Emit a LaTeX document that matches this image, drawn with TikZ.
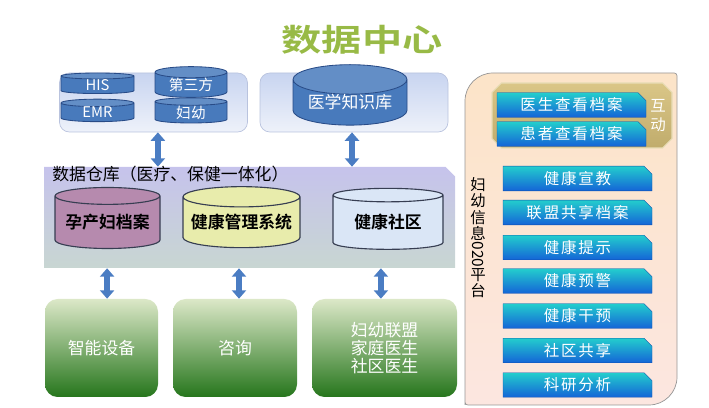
\documentclass[tikz,border=0pt]{standalone}
\usepackage{fontspec}
\setmainfont{Noto Sans CJK SC}[BoldFont={Noto Sans CJK SC Bold}]
\newfontfamily\btnfont{Noto Sans CJK SC}[LetterSpace=12]
\usetikzlibrary{arrows.meta,positioning,shapes.geometric,shapes.misc}
\definecolor{titlegreen}{RGB}{152,186,70}
\definecolor{srctop}{RGB}{200,212,240}
\definecolor{srcbot}{RGB}{238,242,250}
\definecolor{srcline}{RGB}{185,195,222}
\definecolor{dbblue}{RGB}{72,122,188}
\definecolor{dbline}{RGB}{40,75,135}
\definecolor{arrowblue}{RGB}{75,125,195}
\definecolor{dwtop}{RGB}{198,195,236}
\definecolor{dwmid}{RGB}{170,170,218}
\definecolor{dwbot}{RGB}{200,214,210}
\definecolor{storeline}{RGB}{55,62,82}
\definecolor{mauve}{RGB}{182,138,174}
\definecolor{paleyellow}{RGB}{232,236,172}
\definecolor{paleblue}{RGB}{218,230,246}
\definecolor{greentop}{RGB}{220,232,200}
\definecolor{greenbot}{RGB}{38,118,28}
\definecolor{paneltop}{RGB}{252,228,200}
\definecolor{panelmid}{RGB}{248,184,124}
\definecolor{panelbot}{RGB}{252,230,224}
\definecolor{panelline}{RGB}{150,150,150}
\definecolor{khakitop}{RGB}{218,198,135}
\definecolor{khakibot}{RGB}{192,172,108}
\definecolor{btntop}{RGB}{35,205,205}
\definecolor{btnbot}{RGB}{20,100,215}

\begin{document}
\begin{tikzpicture}[
  font=\fontsize{10.5}{12}\selectfont,
  srcbox/.style={draw=srcline, line width=0.5pt, rounded corners=7pt,
                 top color=srctop, bottom color=srcbot,
                 minimum width=4.7cm, minimum height=1.475cm},
  bluedb/.style={cylinder, shape border rotate=90, aspect=0.25, draw=dbline,
                 line width=0.6pt, cylinder uses custom fill,
                 cylinder body fill=dbblue, cylinder end fill=dbblue!85!white,
                 text=white, inner sep=0pt},
  storedb/.style={cylinder, shape border rotate=90, aspect=0.2, draw=storeline,
                  line width=0.8pt, minimum height=1.525cm, inner sep=0pt,
                  font=\fontsize{12}{14}\selectfont\bfseries},
  terminal/.style={rounded corners=9pt, top color=greentop, bottom color=greenbot,
                   text=white, minimum height=2.45cm, align=center,
                   font=\fontsize{12}{13}\selectfont},
  dblarrow/.style={{Triangle[width=10pt,length=6pt]}-{Triangle[width=10pt,length=6pt]},
                   line width=4pt, draw=arrowblue},
  appbtn/.style={chamfered rectangle, chamfered rectangle corners=north east,
                 chamfered rectangle xsep=2pt, draw=btnbot!80!black, line width=0.3pt,
                 top color=btntop, bottom color=btnbot, text=white,
                 minimum width=3.725cm, minimum height=0.6cm, inner sep=0pt,
                 font=\fontsize{11}{12}\btnfont}
]
\useasboundingbox (0,0) rectangle (17.725,10.2);

% Titel
\node[font=\fontsize{22}{24}\selectfont\bfseries, text=titlegreen]
  (title) at (9.05,9.2) {\scalebox{1.3}[1]{数据中心}};

% Datenquellen
\node[srcbox] (sources) at (3.8375,7.6375) {};
\node[bluedb, minimum width=1.825cm, minimum height=0.4cm] (his) at (2.4375,8.075) {HIS};
\node[bluedb, minimum width=1.8cm, minimum height=0.4cm] (third) at (4.775,8.075) {第三方};
\node[bluedb, minimum width=1.825cm, minimum height=0.4cm] (emr) at (2.4375,7.3875) {EMR};
\node[bluedb, minimum width=1.8cm, minimum height=0.4cm] (mch) at (4.775,7.3875) {妇幼};

\node[srcbox] (knowbox) at (8.85,7.6375) {};
\node[bluedb, aspect=0.35, minimum width=2.85cm, minimum height=1.025cm,
  font=\fontsize{12}{14}\selectfont] (knowledge) at (8.75,7.6375) {医学知识库};

% Datenlager
\node[chamfered rectangle, chamfered rectangle corners=north east,
  chamfered rectangle xsep=0.35cm, top color=dwtop, middle color=dwmid,
  bottom color=dwbot, minimum width=10.275cm, minimum height=2.525cm]
  (dw) at (6.2375,4.7625) {};
\node[anchor=west, inner sep=0pt, font=\fontsize{12}{14}\selectfont] (dwlabel)
  at (1.3,5.85) {数据仓库（医疗、保健一体化）};

\node[storedb, fill=mauve, minimum width=2.625cm] (pregnancy) at (2.6875,4.6375) {孕产妇档案};
\node[storedb, fill=paleyellow, minimum width=2.925cm] (healthmgmt) at (6.0375,4.6375) {健康管理系统};
\node[storedb, fill=paleblue, minimum width=2.75cm] (community) at (9.7,4.6375) {健康社区};

% Endpunkte
\node[terminal, minimum width=2.825cm] (device) at (2.5375,1.5) {智能设备};
\node[terminal, minimum width=3.1cm] (consult) at (5.875,1.5) {咨询};
\node[terminal, minimum width=3.625cm] (alliance) at (9.6125,1.5)
  {妇幼联盟\\家庭医生\\社区医生};

% Verbindungen
\draw[dblarrow] ([xshift=0.11cm]sources.south) -- ([xshift=0.11cm]sources.south |- dw.north);
\draw[dblarrow] ([xshift=-0.05cm]knowbox.south) -- ([xshift=-0.05cm]knowbox.south |- dw.north);
\draw[dblarrow] ([xshift=0.14cm]device.north |- dw.south) -- ([xshift=0.14cm]device.north);
\draw[dblarrow] ([xshift=0.1cm]consult.north |- dw.south) -- ([xshift=0.1cm]consult.north);
\draw[dblarrow] ([xshift=-0.09cm]alliance.north |- dw.south) -- ([xshift=-0.09cm]alliance.north);

% O2O-Plattform
\path[draw=panelline, line width=0.5pt, top color=paneltop, middle color=panelmid,
  bottom color=panelbot]
  (11.625,0.15) [rounded corners=0.7cm] -- (11.625,8.375)
  [rounded corners=2pt] -- (16.925,8.375) [rounded corners=0.7cm] -- (16.925,0.075)
  [rounded corners=2pt] -- (11.625,0.075) -- cycle;
\node[align=center, font=\fontsize{11}{11.5}\selectfont] (o2olabel) at (11.95,4.25)
  {妇\\幼\\信\\息\\\rotatebox[origin=c]{-90}{020}\\平\\台};

\node[chamfered rectangle, chamfered rectangle xsep=0.15cm, draw=khakitop!60!white,
  line width=0.8pt, top color=khakitop, bottom color=khakibot,
  minimum width=4.5cm, minimum height=1.625cm] (interact) at (14.55,7.3125) {};
\node[text=white, align=center, font=\fontsize{11}{14}\selectfont]
  (interactlabel) at (16.45,7.3125) {互\\动};

\node[appbtn] (doctorview) at (14.2875,7.575) {医生查看档案};
\node[appbtn] (patientview) at (14.2875,6.85) {患者查看档案};
\node[appbtn] (education) at (14.4375,5.7375) {健康宣教};
\node[appbtn] (shared) at (14.4375,4.8875) {联盟共享档案};
\node[appbtn] (hint) at (14.4375,4.0125) {健康提示};
\node[appbtn] (warning) at (14.4375,3.175) {健康预警};
\node[appbtn] (intervene) at (14.4375,2.3) {健康干预};
\node[appbtn] (commshare) at (14.4375,1.4375) {社区共享};
\node[appbtn] (research) at (14.4375,0.575) {科研分析};

\end{tikzpicture}
\end{document}
